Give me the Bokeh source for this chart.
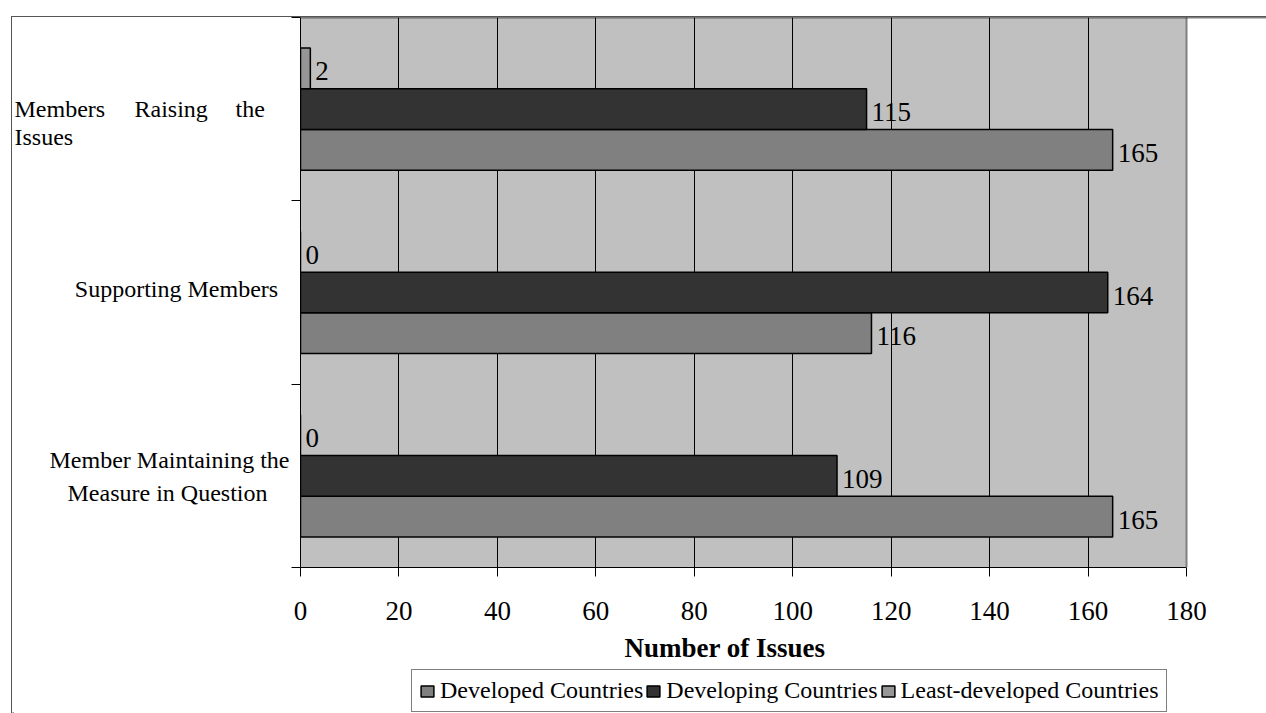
from bokeh.plotting import figure
from bokeh.layouts import row, column
from bokeh.models import (Range1d, FixedTicker, Legend, LegendItem, ColumnDataSource,
                          Span, BoxAnnotation)
from bokeh.embed import file_html
from bokeh.resources import INLINE
from bokeh.core.properties import value

# ---- data ----
categories = ["Member Maintaining the Measure in Question", "Supporting Members", "Members Raising the Issues"]
series_names = ["Developed Countries", "Developing Countries", "Least-developed Countries"]
developed = [165, 116, 165]
developing = [109, 164, 115]
least_developed = [0, 0, 2]
x_ticks = [0, 20, 40, 60, 80, 100, 120, 140, 160, 180]
x_max = 180
x_axis_title = "Number of Issues"
# category labels as drawn (one entry per text line) and their category index
label_lines = ["Members", "Raising", "the", "Issues",
               "Supporting Members",
               "Member Maintaining the", "Measure in Question"]
label_cat = [2, 2, 2, 2, 1, 0, 0]

colors = ["#808080", "#333333", "#969696"]
FONT = "Liberation Serif"
BORDER = "#555555"

# ---- layout constants (pixels) ----
PX_X = 886 / x_max       # pixels per x unit
LEFT_W = 278             # page x 12 .. 290
MAIN_W = 976             # page x 290 .. 1266
BOTTOM_BORDER = 64
TOP_H = 550 + BOTTOM_BORDER   # page y 17 .. 631
BOT_H = 696 - TOP_H           # page y 631 .. 713

# ---------------- main chart ----------------
p = figure(width=MAIN_W, height=TOP_H,
           x_range=Range1d(0, x_max + 80 / PX_X), y_range=Range1d(0, 3),
           output_backend="svg", toolbar_location=None,
           min_border_left=10, min_border_right=0, min_border_top=0,
           min_border_bottom=BOTTOM_BORDER)
p.background_fill_color = "white"
p.border_fill_color = "white"
p.outline_line_color = None

p.add_layout(BoxAnnotation(left=0, right=x_max, bottom=0, top=3, fill_color="#C0C0C0",
                           fill_alpha=1, line_color=None, level="image"))

bar_h = 1 / 4.5
series = [developed, developing, least_developed]
for i, (name, vals) in enumerate(zip(series_names, series)):
    ys = [k + 0.5 + (i - 1) * bar_h for k in range(len(categories))]
    src = ColumnDataSource(dict(y=ys, right=vals, label=[str(v) for v in vals]))
    p.hbar(y="y", right="right", left=0, height=bar_h, source=src,
           fill_color=colors[i], line_color="black", line_width=1.5)
    p.text(x="right", y="y", text="label", source=src, x_offset=5, y_offset=3,
           text_baseline="alphabetic", text_align="left",
           text_font=value(FONT), text_font_size="27px", text_color="black")

p.add_layout(Span(location=x_max, dimension="height", line_color="#808080", line_width=2))
p.add_layout(Span(location=3, dimension="width", line_color="black", line_width=1.5))

xa = p.xaxis[0]
xa.ticker = FixedTicker(ticks=x_ticks)
xa.bounds = (0, x_max)
xa.major_tick_out = 9
xa.major_tick_in = 0
xa.minor_tick_out = 0
xa.minor_tick_in = 0
xa.major_label_text_font = FONT
xa.major_label_text_font_size = "27px"
xa.major_label_text_color = "black"
xa.major_label_standoff = 25
xa.axis_line_color = "black"
xa.major_tick_line_color = "black"

ya = p.yaxis[0]
ya.ticker = FixedTicker(ticks=[0, 1, 2, 3])
ya.bounds = (0, 3)
ya.major_tick_out = 9
ya.major_tick_in = 0
ya.minor_tick_out = 0
ya.minor_tick_in = 0
ya.major_label_overrides = {0: "", 1: "", 2: "", 3: ""}
ya.major_label_standoff = 0
ya.axis_line_color = "black"
ya.major_tick_line_color = "black"

p.xgrid.ticker = FixedTicker(ticks=x_ticks)
p.xgrid.grid_line_color = "black"
p.xgrid.grid_line_width = 1
p.ygrid.grid_line_color = None

# ---------------- category label panel ----------------
q = figure(width=LEFT_W, height=TOP_H,
           x_range=Range1d(0, LEFT_W), y_range=Range1d(0, 3),
           output_backend="svg", toolbar_location=None,
           min_border_left=0, min_border_right=0, min_border_top=0,
           min_border_bottom=BOTTOM_BORDER)
q.axis.visible = False
q.grid.visible = False
q.outline_line_color = None
q.background_fill_color = "white"
q.border_fill_color = "white"

lx = [2, 122, 223, 2, 164, 157, 155]
ldy = [0, 0, 0, 28, -4, -16, 17]
lalign = ["left", "left", "left", "left", "center", "center", "center"]
lsrc = ColumnDataSource(dict(x=lx, y=[c + 0.5 for c in label_cat], text=label_lines,
                             dy=ldy, align=lalign))
q.text(x="x", y="y", text="text", source=lsrc, y_offset="dy", text_align="align",
       text_baseline="alphabetic", text_font=value(FONT), text_font_size="24px",
       text_color="black")

# ---------------- axis title + legend strip ----------------
strip_w = LEFT_W + MAIN_W
s = figure(width=strip_w, height=BOT_H, x_range=Range1d(0, strip_w), y_range=Range1d(0, BOT_H),
           output_backend="svg", toolbar_location=None,
           min_border_left=0, min_border_right=0, min_border_top=0, min_border_bottom=0)
s.axis.visible = False
s.grid.visible = False
s.outline_line_color = None
s.background_fill_color = "white"
s.border_fill_color = "white"
s.text(x=[724.5 - 12], y=[BOT_H - 16], text=[x_axis_title], text_align="center",
       text_baseline="alphabetic", text_font=value(FONT), text_font_size="27px",
       text_font_style="bold", text_color="black")

# legend swatches: placeholder renderers lying outside the visible range
legend_renderers = []
for i, name in enumerate(series_names):
    r = s.hbar(y=[-50], right=[1], left=0, height=1, fill_color=colors[i],
               line_color="black", line_width=1.5)
    legend_renderers.append(r)

legend = Legend(items=[LegendItem(label=n, renderers=[r]) for n, r in zip(series_names, legend_renderers)],
                orientation="horizontal", location=(411 - 12, 1))
legend.label_text_font = FONT
legend.label_text_font_size = "24px"
legend.label_text_color = "black"
legend.glyph_width = 16
legend.glyph_height = 14
legend.label_standoff = 5
legend.spacing = 2
legend.padding = 7
legend.margin = 0
legend.border_line_color = "black"
legend.border_line_width = 1
legend.background_fill_color = "white"
legend.background_fill_alpha = 1
s.add_layout(legend, "center")

layout = column(row(q, p), s,
                styles={"margin-left": "11px", "margin-top": "16px",
                        "border-left": f"1px solid {BORDER}",
                        "border-top": f"1px solid {BORDER}"})
open("out.html", "w").write(file_html(layout, INLINE))
